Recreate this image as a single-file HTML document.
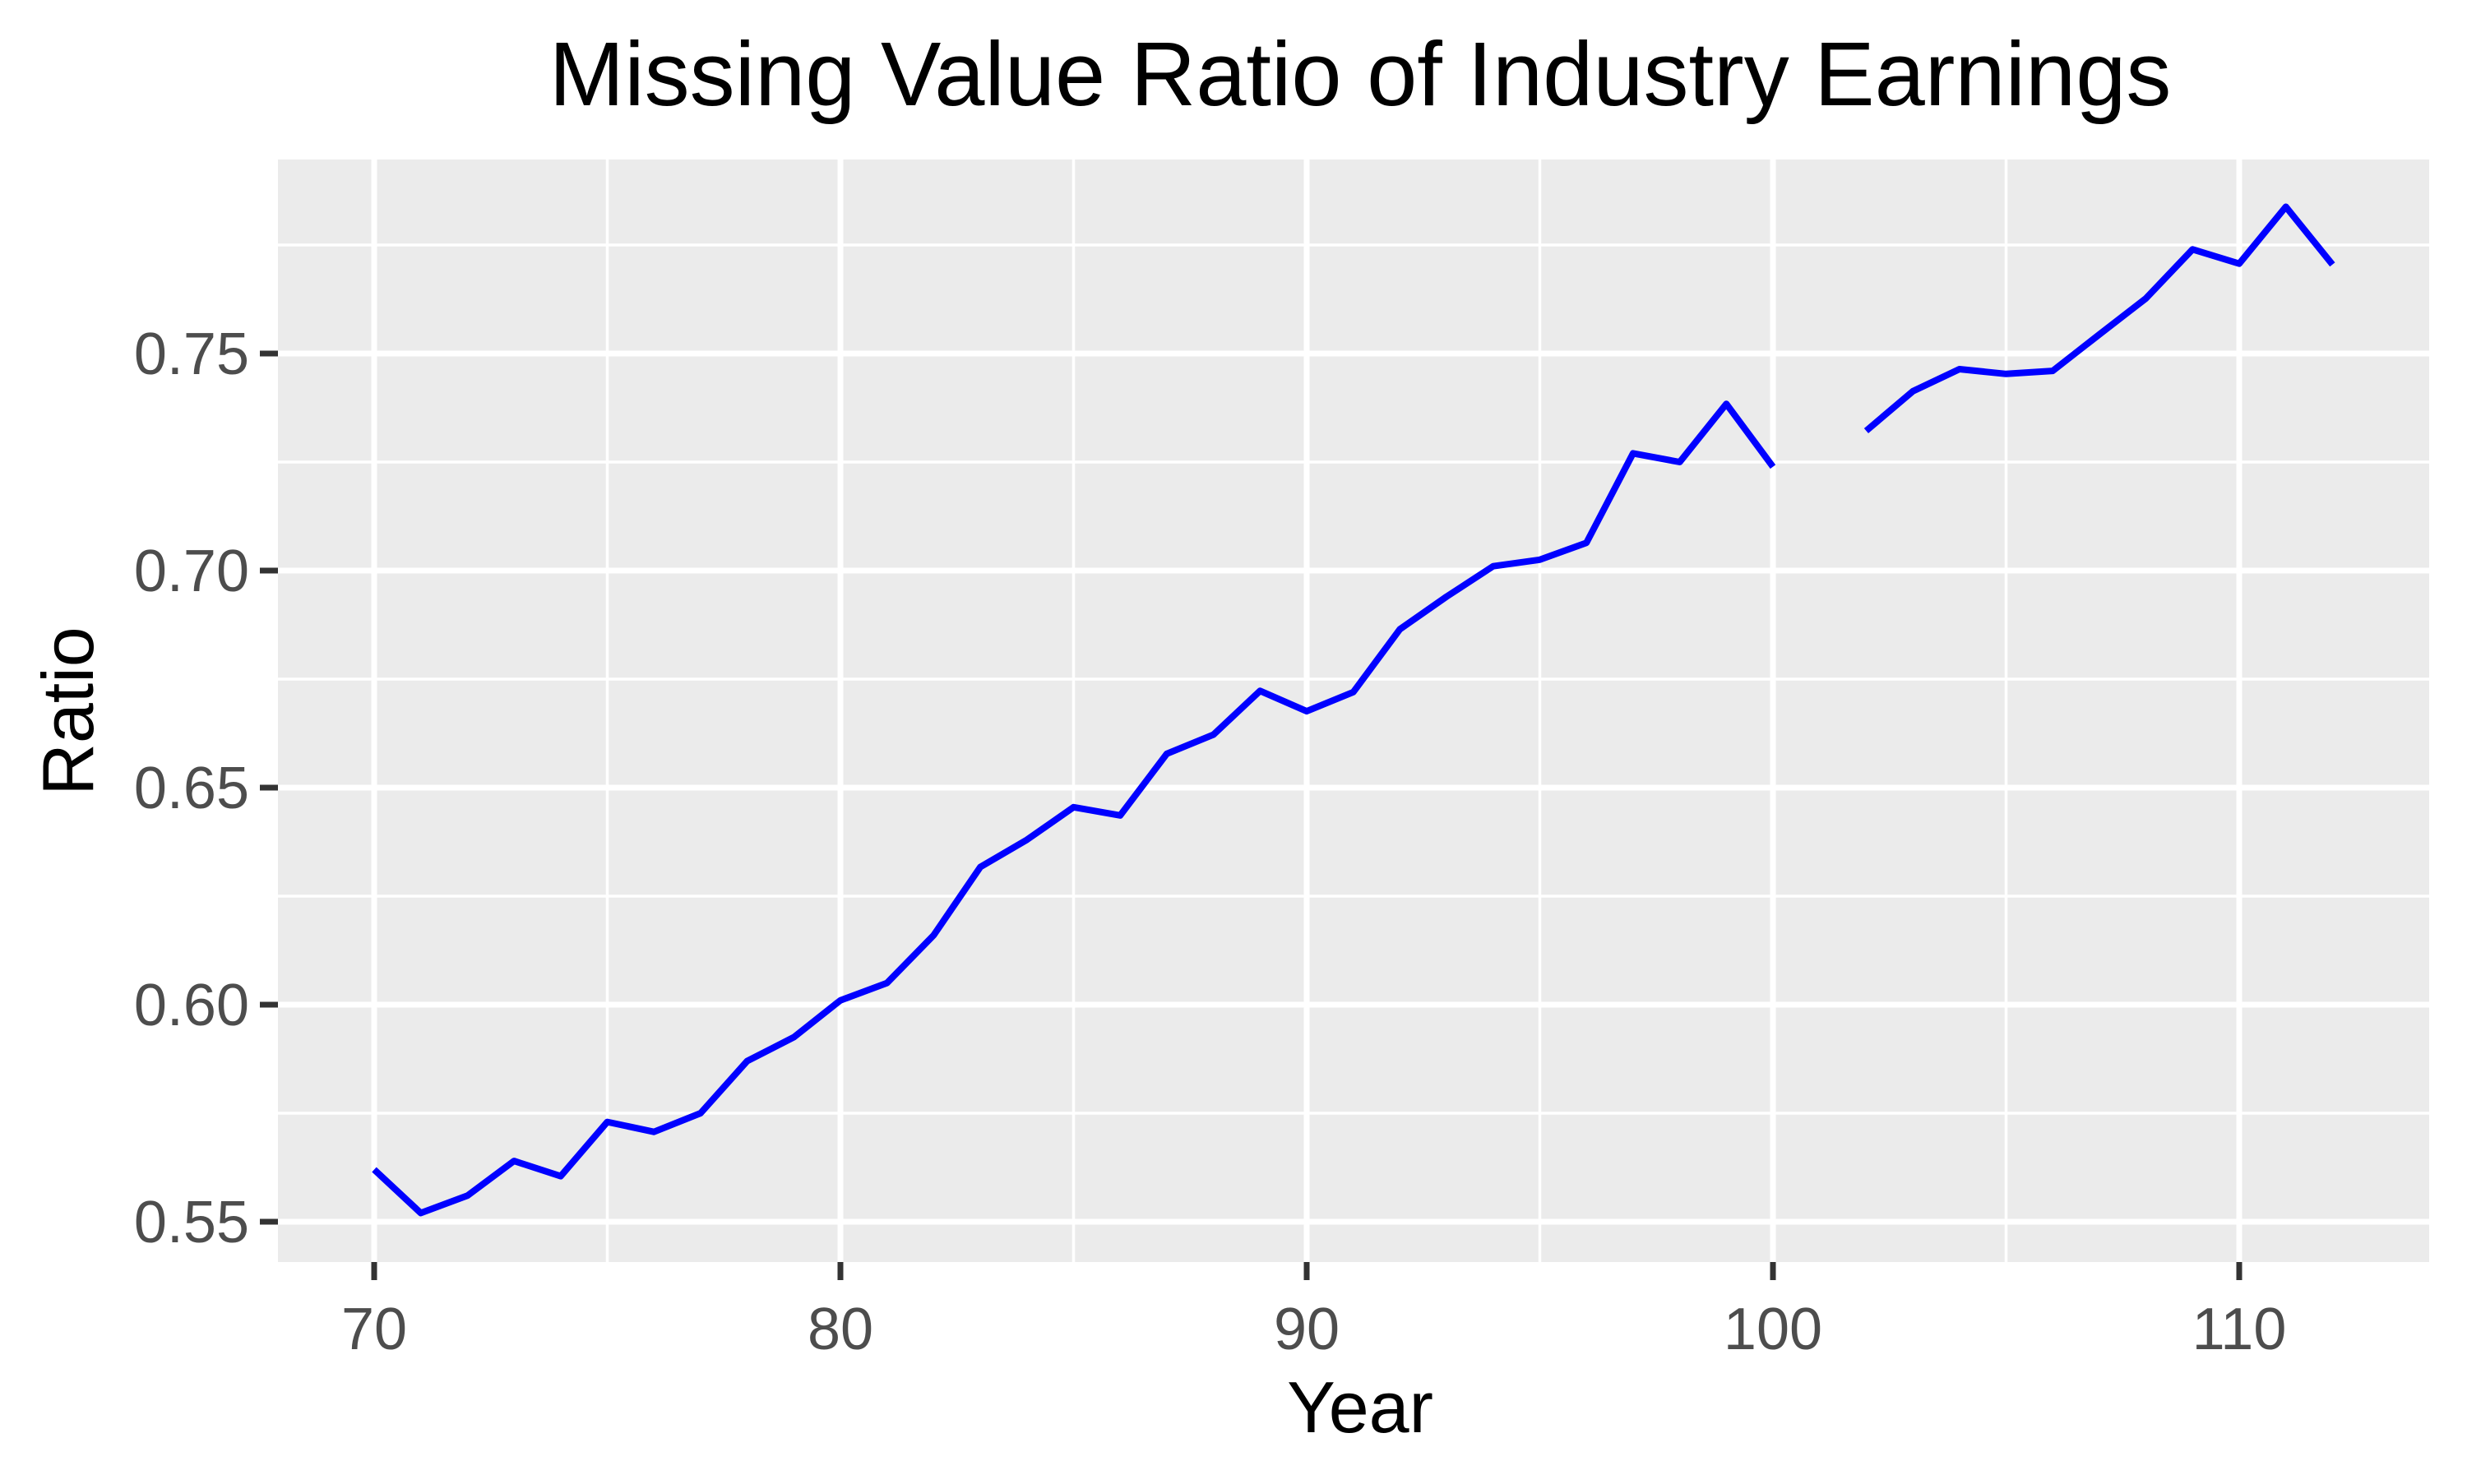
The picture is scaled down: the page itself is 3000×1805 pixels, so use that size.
<!DOCTYPE html>
<html><head><meta charset="utf-8"><style>
body{margin:0;background:#fff}
svg text{font-family:"Liberation Sans",sans-serif}
</style></head><body>
<svg id="chart" width="3000" height="1800" viewBox="0 0 3000 1800" xmlns="http://www.w3.org/2000/svg">
<rect width="3000" height="1800" fill="#fff"/>
<text x="1654" y="128" font-size="110" text-anchor="middle" fill="#000">Missing Value Ratio of Industry Earnings</text>
<rect x="338" y="194" width="2616" height="1341" fill="#ebebeb"/>
<g id="grid"></g>
<g id="axes"></g>
<g id="series"></g>
<text x="1654" y="1742" font-size="88" text-anchor="middle" fill="#000">Year</text>
<text transform="translate(113,865) rotate(-90)" font-size="88" text-anchor="middle" fill="#000">Ratio</text>
</svg>
<script>
const years = [70,71,72,73,74,75,76,77,78,79,80,81,82,83,84,85,86,87,88,89,90,91,92,93,94,95,96,97,98,99,100,101,102,103,104,105,106,107,108,109,110,111,112];
const ratios = [0.562,0.552,0.556,0.564,0.5605,0.573,0.5707,0.575,0.587,0.5925,0.601,0.605,0.616,0.6317,0.638,0.6455,0.6436,0.6578,0.6622,0.6723,0.6676,0.672,0.6865,0.694,0.701,0.7025,0.7064,0.727,0.725,0.7384,0.7239,null,0.7322,0.7413,0.7464,0.7453,0.746,0.7544,0.7627,0.774,0.7707,0.7838,0.7705];
const xTicks = [70,80,90,100,110];
const yTicks = [0.55,0.60,0.65,0.70,0.75];
const xTickLabels = ["70","80","90","100","110"];
const yTickLabels = ["0.55","0.60","0.65","0.70","0.75"];

const NS="http://www.w3.org/2000/svg";
const P={l:338,r:2954,t:194,b:1535};
function xs(v){return 455+(v-70)*56.7;}
function ys(v){return 1486-(v-0.55)*5280;}
function mk(tag,attrs,parent){const e=document.createElementNS(NS,tag);for(const k in attrs)e.setAttribute(k,attrs[k]);parent.appendChild(e);return e;}
const grid=document.getElementById('grid'),axes=document.getElementById('axes'),series=document.getElementById('series');
for(let i=0;i<xTicks.length;i++){const v=xTicks[i]+5;
 const l=mk('line',{x1:xs(v),x2:xs(v),y1:P.t,y2:P.b,stroke:'#fff','stroke-width':3.5},grid);
 
 }
for(let i=0;i<yTicks.length;i++){const v=yTicks[i]+0.025;
 const l=mk('line',{x1:P.l,x2:P.r,y1:ys(v),y2:ys(v),stroke:'#fff','stroke-width':3.5},grid);
 
 }
xTicks.forEach((v,i)=>{
 const g=mk('line',{x1:xs(v),x2:xs(v),y1:P.t,y2:P.b,stroke:'#fff','stroke-width':7},grid);
 
 
 const t=mk('line',{x1:xs(v),x2:xs(v),y1:P.b,y2:P.b+22,stroke:'#333','stroke-width':7},axes);
 
 
 const tx=mk('text',{x:xs(v),y:1641,'font-size':72,'text-anchor':'middle',fill:'#4d4d4d'},axes);
 tx.textContent=xTickLabels[i];
 
 
});
yTicks.forEach((v,i)=>{
 const g=mk('line',{x1:P.l,x2:P.r,y1:ys(v),y2:ys(v),stroke:'#fff','stroke-width':7},grid);
 
 
 const t=mk('line',{x1:P.l-22,x2:P.l,y1:ys(v),y2:ys(v),stroke:'#333','stroke-width':7},axes);
 
 
 const tx=mk('text',{x:303,y:ys(v)+25,'font-size':72,'text-anchor':'end',fill:'#4d4d4d'},axes);
 tx.textContent=yTickLabels[i];
 
 
});
let segs=[],cur=[];
years.forEach((y,i)=>{if(ratios[i]==null){if(cur.length)segs.push(cur);cur=[];}else cur.push(xs(y).toFixed(1)+','+ys(ratios[i]).toFixed(1));});
if(cur.length)segs.push(cur);
segs.forEach(s=>{
 const p=mk('polyline',{points:s.join(' '),fill:'none',stroke:'#0000ff','stroke-width':8,'stroke-linejoin':'round'},series);
 
 
});
</script>
</body></html>
